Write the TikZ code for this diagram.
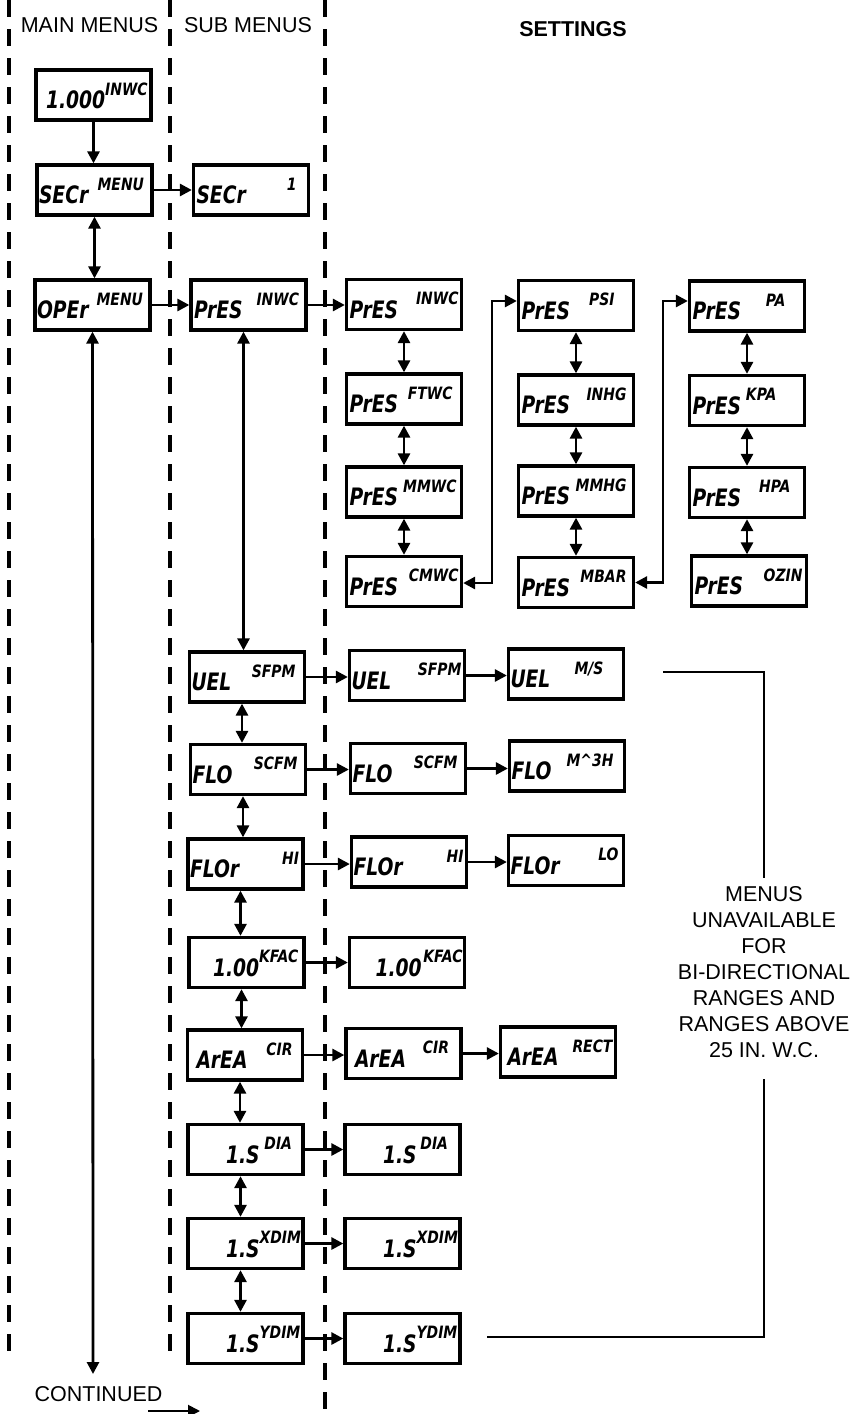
\documentclass[tikz,border=0pt]{standalone}
\usepackage{fontspec}
\setmainfont{Liberation Sans}
\newfontfamily\lcdfont{DejaVu Sans Bold Oblique}[FakeStretch=0.78]
\newfontfamily\lcdunitfont{DejaVu Sans Bold Oblique}[FakeStretch=0.82]
\usepackage{tikz}
\usetikzlibrary{arrows.meta}

% display text: indent, main reading, unit, gap at the right
\newcommand{\lcdm}{\lcdfont\fontsize{24}{24}\selectfont}
\newcommand{\lcds}{\lcdunitfont\fontsize{17}{17}\selectfont}
\newcommand{\disp}[4]{\makebox[111pt][l]{\hspace*{#1pt}\smash{\raisebox{-13.5pt}{\lcdm #2}}\hfill\smash{\raisebox{0pt}{\lcds #3}}\hspace*{#4pt}}}

\begin{document}
\begin{tikzpicture}[x=1pt, y=-1pt,
    lcd/.style={draw, line width=3.3pt, minimum width=115pt, minimum height=50pt, inner sep=0pt},
    hdr/.style={font=\fontsize{21.5}{26}\selectfont, anchor=base, inner sep=0pt},
    edge/.style={-{Triangle[length=12pt,width=12pt]}, line width=2.8pt},
    dbl/.style={{Triangle[length=12pt,width=12pt]}-{Triangle[length=12pt,width=12pt]}, line width=2.8pt},
    divider/.style={line width=3.3pt, dash pattern=on 17pt off 12pt},
    bracketline/.style={line width=2.8pt},
    note/.style={font=\fontsize{21.5}{26}\selectfont, align=center, inner sep=0pt}
  ]
    \useasboundingbox (0,0) rectangle (859,1414);

    % column dividers
    \foreach \x/\yend in {9/1360, 170/1360, 325/1414}
      \draw[divider] (\x,0) -- (\x,\yend);

    \node[hdr] (hmain) at (89.5,32) {MAIN MENUS};
    \node[hdr] (hsub) at (248,32) {SUB MENUS};
    \node[hdr, font=\fontsize{21.5}{26}\selectfont\bfseries] (hset) at (573,36) {SETTINGS};

    % main menus
    \node[lcd] (val) at (93.5,95) {\disp{8}{1.000}{INWC}{2}};
    \node[lcd] (secr) at (94.5,190) {\disp{0}{SECr}{MENU}{6}};
    \node[lcd] (oper) at (92.5,305) {\disp{0}{OPEr}{MENU}{5}};

    % sub menus
    \node[lcd] (secrs) at (251,190) {\disp{1}{SECr}{1}{10}};
    \node[lcd] (press) at (248.5,305) {\disp{1}{PrES}{INWC}{5}};
    \node[lcd] (uel) at (247,677) {\disp{0}{UEL}{SFPM}{7}};
    \node[lcd] (flo) at (248,769.5) {\disp{0}{FLO}{SCFM}{6}};
    \node[lcd] (flor) at (245.5,864) {\disp{0}{FLOr}{HI}{2}};
    \node[lcd] (kfac) at (246.5,962.5) {\disp{22}{1.00}{KFAC}{4}};
    \node[lcd] (area) at (245,1055) {\disp{7}{ArEA}{CIR}{8}};
    \node[lcd] (dia) at (245.5,1149.5) {\disp{36}{1.S}{DIA}{9}};
    \node[lcd] (xdim) at (245.5,1243.5) {\disp{36}{1.S}{XDIM}{1}};
    \node[lcd] (ydim) at (245.5,1338.5) {\disp{36}{1.S}{YDIM}{1}};

    % pressure units
    \node[lcd] (pa1) at (404,304.5) {\disp{1}{PrES}{INWC}{1}};
    \node[lcd] (pa2) at (404,399) {\disp{1}{PrES}{FTWC}{7}};
    \node[lcd] (pa3) at (404,492) {\disp{1}{PrES}{MMWC}{3}};
    \node[lcd] (pa4) at (404,581.5) {\disp{1}{PrES}{CMWC}{1}};
    \node[lcd] (pb1) at (576,305.5) {\disp{1}{PrES}{PSI}{17}};
    \node[lcd] (pb2) at (576,400) {\disp{1}{PrES}{INHG}{5}};
    \node[lcd] (pb3) at (576,491) {\disp{1}{PrES}{MMHG}{5}};
    \node[lcd] (pb4) at (576,582.5) {\disp{1}{PrES}{MBAR}{5}};
    \node[lcd] (pc1) at (747,306) {\disp{1}{PrES}{PA}{17}};
    \node[lcd] (pc2) at (747,400.5) {\disp{1}{PrES}{KPA}{26}};
    \node[lcd] (pc3) at (747,492.5) {\disp{1}{PrES}{HPA}{12}};
    \node[lcd] (pc4) at (749,581) {\disp{1}{PrES}{OZIN}{2}};

    % other settings
    \node[lcd] (uelA) at (407,675.5) {\disp{0}{UEL}{SFPM}{1}};
    \node[lcd] (uelB) at (566,674) {\disp{0}{UEL}{M/S}{18}};
    \node[lcd] (floA) at (408,768.5) {\disp{0}{FLO}{SCFM}{6}};
    \node[lcd] (floB) at (567,766) {\disp{0}{FLO}{M\textasciicircum3H}{9}};
    \node[lcd] (florA) at (409,862) {\disp{0}{FLOr}{HI}{1}};
    \node[lcd] (florB) at (566,860.5) {\disp{0}{FLOr}{LO}{3}};
    \node[lcd] (kfacA) at (407,962.5) {\disp{24}{1.00}{KFAC}{0}};
    \node[lcd] (areaA) at (403.5,1053.5) {\disp{7}{ArEA}{CIR}{10}};
    \node[lcd] (areaB) at (558,1052) {\disp{5}{ArEA}{RECT}{1}};
    \node[lcd] (diaA) at (402.5,1149.5) {\disp{36}{1.S}{DIA}{10}};
    \node[lcd] (xdimA) at (402.5,1243.5) {\disp{36}{1.S}{XDIM}{1}};
    \node[lcd] (ydimA) at (402.5,1338.5) {\disp{36}{1.S}{YDIM}{1}};

    \node[note] (unavail) at (764,972.5) {MENUS\\UNAVAILABLE\\FOR\\BI-DIRECTIONAL\\RANGES AND\\RANGES ABOVE\\25 IN. W.C.};
    \node[hdr] (cont) at (98.5,1401) {CONTINUED};

    \coordinate (oend) at (93,1374);
    \coordinate (jab) at (492,0);
    \coordinate (jbc) at (663,0);
    \coordinate (brtop) at (663,672);
    \coordinate (brbot) at (487,1337);
    \coordinate (ca) at (148,1411);
    \coordinate (cb) at (200,1411);

    % main column
    \draw[edge] (val.south) -- (val.south |- secr.north);
    \draw[dbl] (secr.south) -- (secr.south |- oper.north);
    \draw[edge] (secr.east) -- (secr.east -| secrs.west);
    \draw[edge] (oper.east) -- (oper.east -| press.west);
    \draw[edge] (press.east) -- (press.east -| pa1.west);
    \draw[dbl] (oper.south) -- (oend);
    \draw[dbl] ([xshift=-5pt]press.south) -- ([xshift=-5pt]press.south |- uel.north);

    \foreach \a/\b in {uel/flo, flo/flor, flor/kfac, kfac/area, area/dia, dia/xdim, xdim/ydim}
      \draw[dbl] ([xshift=-5pt]\a.south) -- ([xshift=-5pt]\a.south |- \b.north);
    \foreach \a/\b in {pa1/pa2, pa2/pa3, pa3/pa4, pb1/pb2, pb2/pb3, pb3/pb4, pc1/pc2, pc2/pc3, pc3/pc4}
      \draw[dbl] (\a.south) -- (\a.south |- \b.north);
    \foreach \a/\b in {uel/uelA, uelA/uelB, flo/floA, floA/floB, flor/florA, florA/florB, kfac/kfacA,
                       area/areaA, areaA/areaB, dia/diaA, xdim/xdimA, ydim/ydimA}
      \draw[edge] (\a.east) -- (\a.east -| \b.west);

    % jumps between unit columns
    \draw[dbl] ([yshift=-1.5pt]pa4.east) -- ([yshift=-1.5pt]pa4.east -| jab) |- ([yshift=4.5pt]pb1.west);
    \draw[dbl] (pb4.east) -- (pb4.east -| jbc) |- ([yshift=5pt]pc1.west);

    % bracket round the note
    \draw[bracketline] (brtop) -| ([yshift=9pt]unavail.north);
    \draw[bracketline] ([yshift=-21pt]unavail.south) |- (brbot);

    \draw[edge, line width=2pt] (ca) -- (cb);
\end{tikzpicture}
\end{document}
